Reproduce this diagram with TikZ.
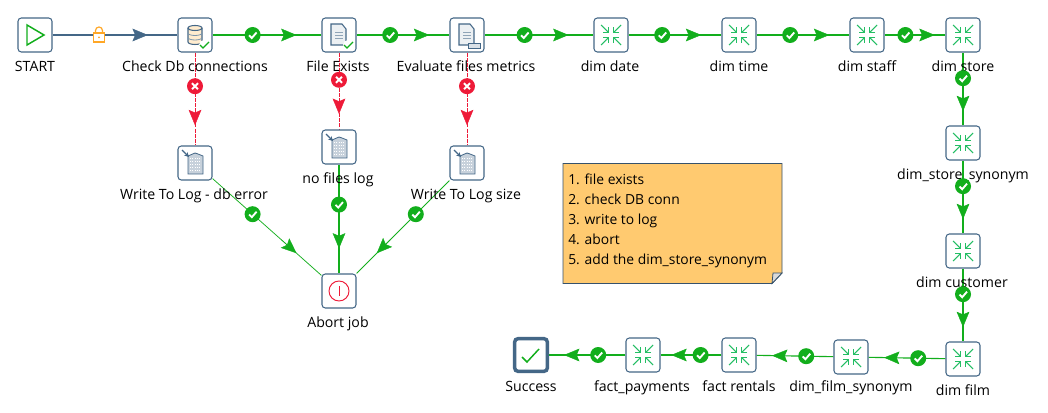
\documentclass[tikz,border=0pt]{standalone}
\usepackage{fontspec}
\setmainfont{Open Sans}
\usepackage{xcolor}
\definecolor{pdislate}{RGB}{68,103,135}
\definecolor{pdigreen}{RGB}{18,174,28}
\definecolor{pdired}{RGB}{238,26,56}
\definecolor{pdiorange}{RGB}{255,167,38}
\definecolor{pdinote}{RGB}{255,202,112}
\definecolor{pdimerge}{RGB}{36,190,100}
\usetikzlibrary{arrows.meta, positioning, calc, backgrounds}
\tikzset{
  stepbox/.style={draw=pdislate, line width=0.8pt, fill=white, rounded corners=2.5pt, minimum size=25.5pt, inner sep=0pt},
  endbox/.style={draw=pdislate, line width=2.6pt, fill=white, rounded corners=2.5pt, minimum size=24.5pt, inner sep=0pt},
  steplabel/.style={font=\fontsize{10.6pt}{12pt}\selectfont, text=black, inner sep=0pt, text height=8pt, text depth=2.5pt, yshift=-1.7pt},
  notelabel/.style={font=\fontsize{10.4pt}{15pt}\selectfont, text=black, inner sep=0pt, anchor=north west, align=left},
  hopok/.style={draw=pdigreen, line width=0.85pt},
  hopthin/.style={draw=pdigreen, line width=0.55pt},
  hoperr/.style={draw=pdired, line width=0.75pt, dash pattern=on 3pt off 0.8pt},
  hopany/.style={draw=pdislate, line width=0.85pt},
  badge/.style={circle, minimum size=12pt, inner sep=0pt, fill=#1},
  tipok/.style={-{Stealth[length=11.5pt,width=9.5pt,inset=2pt]}, draw=pdigreen, fill=pdigreen, line width=0.3pt},
  tiperr/.style={-{Stealth[length=11.5pt,width=9.5pt,inset=2pt]}, draw=pdired, fill=pdired, line width=0.3pt},
  tipany/.style={-{Stealth[length=11.5pt,width=9.5pt,inset=2pt]}, draw=pdislate, fill=pdislate, line width=0.3pt},
  mergeline/.style={draw=pdimerge, line width=0.8pt},
}
% inward arrows of a dimension lookup
\newcommand{\mergeicon}[1]{
  \foreach \sx/\sy in {-1/-1,1/-1,-1/1,1/1} {
    \draw[mergeline] ($(#1)+(\sx*10,\sy*10)$) -- ($(#1)+(\sx*2.5,\sy*2.5)$);
    \draw[mergeline] ($(#1)+(\sx*8,\sy*2.5)$) -- ($(#1)+(\sx*2.5,\sy*2.5)$) -- ($(#1)+(\sx*2.5,\sy*8)$);
  }
}
% small check mark in a box corner
\newcommand{\tickicon}[1]{
  \draw[pdigreen, line width=0.9pt] ($(#1)+(5,10)$) -- ($(#1)+(8,13)$) -- ($(#1)+(14,7)$);
}
% page with text lines
\newcommand{\pageicon}[1]{
  \draw[pdislate, fill=pdislate!10, line width=0.8pt] ($(#1)+(-8,-11)$) -- ($(#1)+(3,-11)$) -- ($(#1)+(7,-6)$) -- ($(#1)+(7,10)$) -- ($(#1)+(-8,10)$) -- cycle;
  \foreach \ly in {-3,0,3} {
    \draw[pdislate!60, line width=0.7pt] ($(#1)+(-4,\ly)$) -- ($(#1)+(4,\ly)$);
  }
}
% table output building
\newcommand{\logicon}[1]{
  \draw[pdislate, fill=pdislate!30, line width=0.6pt] ($(#1)+(-7,-2)$) -- ($(#1)+(-7,-7)$) -- ($(#1)+(0,-10)$) -- ($(#1)+(3,-9)$) -- ($(#1)+(8,-7)$) -- ($(#1)+(8,11)$) -- ($(#1)+(-7,11)$) -- cycle;
  \foreach \ly in {-5,-2,1,4,7} {
    \draw[white, line width=0.7pt, densely dotted] ($(#1)+(-5,\ly)$) -- ($(#1)+(6,\ly)$);
  }
  \draw[pdislate, line width=1pt, -{Stealth[length=3.5pt,width=3.5pt]}] ($(#1)+(-13,-13)$) -- ($(#1)+(-6,-6)$);
}
\begin{document}
\begin{tikzpicture}[x=0.75pt, y=-0.75pt]
  \useasboundingbox (0,0) rectangle (1048,413);

  % Top row
  \node[stepbox] (start) at (35,35) {};
  \node[stepbox] (checkdb) at (195,35) {};
  \node[stepbox] (fileexists) at (339,35) {};
  \node[stepbox] (evalfiles) at (467,35) {};
  \node[stepbox] (dimdate) at (611,35) {};
  \node[stepbox] (dimtime) at (739,35) {};
  \node[stepbox] (dimstaff) at (867,35) {};
  \node[stepbox] (dimstore) at (963,35) {};

  % Right column
  \node[stepbox] (dimsyn) at (963,143) {};
  \node[stepbox] (dimcust) at (963,251) {};
  \node[stepbox] (dimfilm) at (963,359) {};

  % Bottom row
  \node[stepbox] (filmsyn) at (851,357) {};
  \node[stepbox] (factrent) at (739,355) {};
  \node[stepbox] (factpay) at (643,355) {};
  \node[endbox] (success) at (531,355) {};

  % Error branch
  \node[stepbox] (logdb) at (195,163) {};
  \node[stepbox] (lognofiles) at (339,147) {};
  \node[stepbox] (logsize) at (467,163) {};
  \node[stepbox] (abortjob) at (339,291) {};

  % Labels
  \node[steplabel] (startlbl) at (35,66) {START};
  \node[steplabel] (checkdblbl) at (195,66) {Check Db connections};
  \node[steplabel] (fileexistslbl) at (338,66) {File Exists};
  \node[steplabel] (evalfileslbl) at (466,66) {Evaluate files metrics};
  \node[steplabel] (dimdatelbl) at (610,66) {dim date};
  \node[steplabel] (dimtimelbl) at (739,66) {dim time};
  \node[steplabel] (dimstafflbl) at (867,66) {dim staff};
  \node[steplabel] (dimstorelbl) at (963,66) {dim store};
  \node[steplabel] (dimsynlbl) at (963,174) {dim\_store\_synonym};
  \node[steplabel] (dimcustlbl) at (962,282) {dim customer};
  \node[steplabel] (dimfilmlbl) at (963,390) {dim film};
  \node[steplabel] (filmsynlbl) at (851,386) {dim\_film\_synonym};
  \node[steplabel] (factrentlbl) at (739,386) {fact rentals};
  \node[steplabel] (factpaylbl) at (642,386) {fact\_payments};
  \node[steplabel] (successlbl) at (531,386) {Success};
  \node[steplabel] (logdblbl) at (194,194) {Write To Log - db error};
  \node[steplabel] (lognofileslbl) at (338,178) {no files log};
  \node[steplabel] (logsizelbl) at (466,194) {Write To Log size};
  \node[steplabel] (abortjoblbl) at (338,322) {Abort job};

  % Connector lines
  \begin{scope}[on background layer]
    \fill[white] (0,0) rectangle (1048,413);
    \draw[hopany] (start) -- (checkdb);
    \draw[hopok] (checkdb) -- (fileexists);
    \draw[hopok] (fileexists) -- (evalfiles);
    \draw[hopok] (evalfiles) -- (dimdate);
    \draw[hopok] (dimdate) -- (dimtime);
    \draw[hopok] (dimtime) -- (dimstaff);
    \draw[hopok] (dimstaff) -- (dimstore);
    \draw[hopok] (dimstore) -- (dimsyn);
    \draw[hopok] (dimsyn) -- (dimcust);
    \draw[hopok] (dimcust) -- (dimfilm);
    \draw[hopok] (dimfilm) -- (filmsyn);
    \draw[hopok] (filmsyn) -- (factrent);
    \draw[hopok] (factrent) -- (factpay);
    \draw[hopok] (factpay) -- (success);
    \draw[hoperr] (checkdb) -- (logdb);
    \draw[hoperr] (fileexists) -- (lognofiles);
    \draw[hoperr] (evalfiles) -- (logsize);
    \draw[hopthin] (logdb) -- (abortjob);
    \draw[hopok] (lognofiles) -- (abortjob);
    \draw[hopthin] (logsize) -- (abortjob);
  \end{scope}

  % Arrow heads
  \foreach \from/\to in {checkdb/fileexists, fileexists/evalfiles, evalfiles/dimdate, dimdate/dimtime, dimtime/dimstaff, dimstaff/dimstore, dimstore/dimsyn, dimsyn/dimcust, dimcust/dimfilm, dimfilm/filmsyn, filmsyn/factrent, factrent/factpay, factpay/success, logdb/abortjob, lognofiles/abortjob, logsize/abortjob} {
    \draw[tipok] ($(\from.center)!.6!(\to.center)$) -- ($(\from.center)!.705!(\to.center)$);
  }
  \foreach \from/\to in {checkdb/logdb, fileexists/lognofiles, evalfiles/logsize} {
    \draw[tiperr] ($(\from.center)!.6!(\to.center)$) -- ($(\from.center)!.705!(\to.center)$);
  }
  \draw[tipany] ($(start.center)!.6!(checkdb.center)$) -- ($(start.center)!.705!(checkdb.center)$);

  % Badges
  \foreach \from/\to in {checkdb/fileexists, fileexists/evalfiles, evalfiles/dimdate, dimdate/dimtime, dimtime/dimstaff, dimstaff/dimstore, dimstore/dimsyn, dimsyn/dimcust, dimcust/dimfilm, dimfilm/filmsyn, filmsyn/factrent, factrent/factpay, factpay/success, logdb/abortjob, lognofiles/abortjob, logsize/abortjob} {
    \node[badge=pdigreen] (ok-\from-\to) at ($(\from.center)!.4!(\to.center)$) {};
    \draw[white, line width=1.4pt] ($(ok-\from-\to)+(-3.5,0.3)$) -- ($(ok-\from-\to)+(-0.8,3)$) -- ($(ok-\from-\to)+(4,-2.5)$);
  }
  \foreach \from/\to in {checkdb/logdb, fileexists/lognofiles, evalfiles/logsize} {
    \node[badge=pdired] (err-\from-\to) at ($(\from.center)!.4!(\to.center)$) {};
    \draw[white, line width=1.5pt] ($(err-\from-\to)+(-3,-3)$) -- ($(err-\from-\to)+(3,3)$);
    \draw[white, line width=1.5pt] ($(err-\from-\to)+(-3,3)$) -- ($(err-\from-\to)+(3,-3)$);
  }

  % Lock on the unconditional hop
  \coordinate (lock) at ($(start.center)!.4!(checkdb.center)$);
  \fill[white] ($(lock)+(-5,-8)$) rectangle ($(lock)+(5,-2)$);
  \draw[pdiorange, line width=0.9pt] ($(lock)+(-3.5,-2)$) -- ($(lock)+(-3.5,-4.5)$) arc[start angle=180, end angle=360, radius=3.5] -- ($(lock)+(3.5,-2)$);
  \draw[pdiorange, fill=white, line width=0.9pt] ($(lock)+(-5.5,-2)$) rectangle ($(lock)+(5.5,7)$);
  \fill[pdiorange] ($(lock)+(0,2.5)$) circle (1);

  % Start icon
  \draw[pdigreen, line width=1.1pt] ($(start)+(-8,-10)$) -- ($(start)+(9,0)$) -- ($(start)+(-8,10)$) -- cycle;

  % Database icon
  \draw[pdislate, fill=pdiorange!22, line width=0.8pt] ($(checkdb)+(-7,-7)$) -- ($(checkdb)+(-7,7)$) arc[x radius=7, y radius=2.5, start angle=180, end angle=0] -- ($(checkdb)+(7,-7)$);
  \draw[pdislate, fill=pdiorange!22, line width=0.8pt] ($(checkdb)+(0,-7)$) ellipse [x radius=7, y radius=2.5];
  \draw[pdislate!70, line width=0.6pt] ($(checkdb)+(-7,-2)$) arc[x radius=7, y radius=2.5, start angle=180, end angle=0];
  \draw[pdislate!70, line width=0.6pt] ($(checkdb)+(-7,2.5)$) arc[x radius=7, y radius=2.5, start angle=180, end angle=0];
  \fill[white] ($(checkdb)+(9,10)$) circle (5);
  \tickicon{checkdb}

  % Page icons
  \pageicon{fileexists}
  \fill[white] ($(fileexists)+(9,10)$) circle (5);
  \tickicon{fileexists}
  \pageicon{evalfiles}
  \draw[pdislate, fill=pdislate!20, line width=0.6pt] ($(evalfiles)+(1,8)$) rectangle ($(evalfiles)+(13,13)$);

  % Merge icons
  \foreach \mrg in {dimdate, dimtime, dimstaff, dimstore, dimsyn, dimcust, dimfilm, filmsyn, factrent, factpay} {
    \mergeicon{\mrg}
  }

  % Log icons
  \logicon{logdb}
  \logicon{lognofiles}
  \logicon{logsize}

  % Abort icon
  \draw[pdired, line width=0.7pt] (abortjob) circle (10);
  \draw[pdired, line width=0.7pt] ($(abortjob)+(0,-5)$) -- ($(abortjob)+(0,5)$);

  % Success icon
  \draw[pdigreen, line width=1.1pt] ($(success)+(-9,2)$) -- ($(success)+(-4,7)$) -- ($(success)+(8,-6)$);

  % Note
  \draw[pdislate!80!black, fill=pdinote, line width=0.7pt] (563,163.5) -- (782,163.5) -- (782,273) -- (772,283.5) -- (563,283.5) -- cycle;
  \draw[pdislate!80!black, fill=black!15, line width=0.6pt] (782,273) -- (773,273) -- (772,283.5) -- cycle;
  \node[notelabel] (notetext) at (568,173.5) {1. file exists\\2. check DB conn\\3. write to log\\4. abort\\5. add the dim\_store\_synonym};
\end{tikzpicture}
\end{document}
